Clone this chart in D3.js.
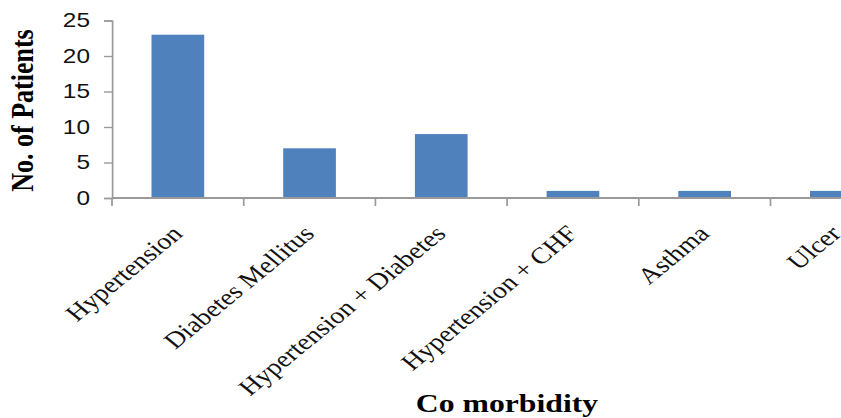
<!DOCTYPE html>
<html>
<head>
<meta charset="utf-8">
<script src="https://cdn.jsdelivr.net/npm/d3@7"></script>
<style>
  html, body { margin: 0; padding: 0; background: #fff; }
  svg { display: block; }
</style>
</head>
<body>
<svg id="chart" width="841" height="418"></svg>
<script>
// Co-morbidities and patient counts
const categories = ["Hypertension", "Diabetes Mellitus", "Hypertension + Diabetes", "Hypertension + CHF", "Asthma", "Ulcer"];
const patients = [23, 7, 9, 1, 1, 1];
const yTicks = [0, 5, 10, 15, 20, 25];
const yTitle = "No. of Patients";
const xTitle = "Co morbidity";

const W = 841, H = 418;
const sx = 1.22;              // horizontal stretch of the whole figure
const axisX = 112 / sx;       // y-axis position in unstretched units
const step = 131.7 / sx;      // width of one category slot
const baseY = 198, topY = 20.5;

const svg = d3.select("#chart");
const g = svg.append("g").attr("transform", `scale(${sx},1)`);

const x = d3.scaleBand()
  .domain(categories)
  .range([axisX, axisX + step * categories.length])
  .paddingInner(0.6)
  .paddingOuter(0.3);

const y = d3.scaleLinear().domain([0, 25]).range([baseY, topY]);

// bars
g.selectAll("rect.bar")
  .data(categories)
  .enter().append("rect")
  .attr("class", "bar")
  .attr("x", d => x(d))
  .attr("width", x.bandwidth())
  .attr("y", (d, i) => y(patients[i]))
  .attr("height", (d, i) => y(0) - y(patients[i]))
  .attr("fill", "#4F81BD");

const axisColor = "#9a9a9a";

// y axis
const yAxis = g.append("g").attr("transform", `translate(${axisX},0)`)
  .call(d3.axisLeft(y).tickValues(yTicks).tickSize(8 / sx).tickPadding(14 / sx).tickFormat(d3.format("d")));
yAxis.select(".domain").attr("stroke", axisColor).attr("stroke-width", 1.4);
yAxis.selectAll(".tick line").attr("stroke", axisColor).attr("stroke-width", 1.4);
yAxis.selectAll(".tick text")
  .attr("font-family", "'Liberation Sans', Arial, sans-serif")
  .attr("font-size", 20)
  .attr("fill", "#111");

// x axis line and category boundary ticks
const x0 = x.range()[0], x1 = x.range()[1];
g.append("line")
  .attr("x1", x0).attr("x2", x1)
  .attr("y1", y(0)).attr("y2", y(0))
  .attr("stroke", axisColor).attr("stroke-width", 2);
const bounds = d3.range(categories.length + 1).map(i => x0 + i * x.step());
g.selectAll("line.xtick")
  .data(bounds)
  .enter().append("line")
  .attr("class", "xtick")
  .attr("x1", d => d).attr("x2", d => d)
  .attr("y1", y(0)).attr("y2", y(0) + 8)
  .attr("stroke", axisColor).attr("stroke-width", 1.4);

// rotated category labels
g.selectAll("text.cat")
  .data(categories)
  .enter().append("text")
  .attr("class", "cat")
  .attr("transform", d => `translate(${x(d) + x.bandwidth() / 2 + 5},${y(0) + 37}) rotate(-45)`)
  .attr("text-anchor", "end")
  .attr("font-family", "'Liberation Serif', 'Times New Roman', serif")
  .attr("font-size", 23)
  .attr("fill", "#111")
  .text(d => d);

// axis titles
g.append("text")
  .attr("transform", `translate(${33 / sx},${110.5}) rotate(-90)`)
  .attr("text-anchor", "middle")
  .attr("font-family", "'Liberation Serif', 'Times New Roman', serif")
  .attr("font-weight", "bold")
  .attr("font-size", 26)
  .attr("fill", "#000")
  .text(yTitle);

g.append("text")
  .attr("x", 507 / sx)
  .attr("y", 412)
  .attr("text-anchor", "middle")
  .attr("font-family", "'Liberation Serif', 'Times New Roman', serif")
  .attr("font-weight", "bold")
  .attr("font-size", 26)
  .attr("fill", "#000")
  .text(xTitle);
</script>
</body>
</html>
